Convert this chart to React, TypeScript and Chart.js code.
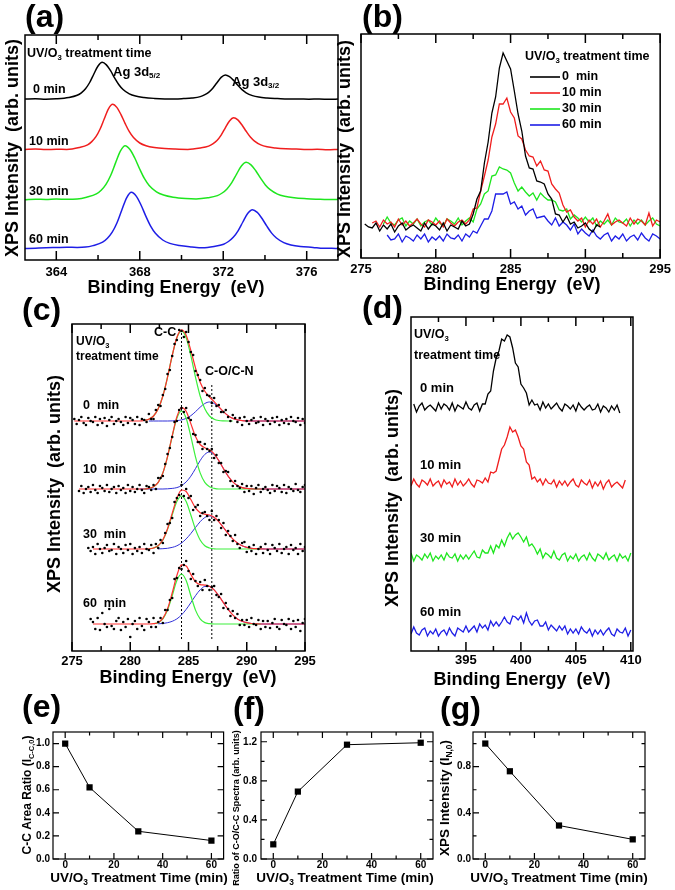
import React, { useEffect, useRef } from 'react';
import { Chart, registerables } from 'chart.js';

Chart.register(...registerables);

const FONT = '"Liberation Sans", Arial, Helvetica, sans-serif';
const BLACK = '#000000';
const RED = '#f01e1e';
const GREEN = '#1ee61e';
const BLUE = '#1e1ee6';
const FIT_RED = '#ff3030';
const FIT_GREEN = '#3cf03c';
const FIT_BLUE = '#3030d8';

// ---------------- (a) Ag 3d ----------------
const A_XTICKS = [364, 368, 372, 376];
const A_XMINOR = [366, 370, 374];
const A_X_0 = [362.5,363.0,363.5,364.0,364.6,365.0,365.2,365.4,365.6,365.8,366.0,366.2,366.4,366.6,366.8,367.0,367.2,367.5,367.8,368.2,368.7,369.2,369.7,370.1,370.5,370.9,371.1,371.3,371.5,371.7,371.9,372.1,372.3,372.5,372.7,372.9,373.1,373.4,373.7,374.1,374.6,375.1,375.6,376.1,376.6,377.1,377.5];
const A_Y_0 = [161,161.3,160.8,161.2,162.5,164.7,167.2,171.3,177.5,186,194,197.7,195.1,189.3,181.9,175.3,170.5,166.1,163.9,162.5,161.6,161.1,161,161.4,162,163.4,165.1,167.7,171.8,177.3,182.6,185,183.3,179.5,174.7,170.4,167.2,164.4,162.9,162,161.4,160.9,161.1,160.8,161,160.7,160.9];
const A_X_10 = [362.5,363.0,363.5,364.0,364.5,365.1,365.5,365.7,365.9,366.1,366.3,366.5,366.7,366.9,367.1,367.3,367.5,367.7,368.0,368.3,368.7,369.2,369.7,370.3,370.9,371.3,371.5,371.7,371.9,372.1,372.3,372.5,372.7,372.9,373.1,373.3,373.5,373.8,374.1,374.5,375.0,375.5,376.0,376.5,377.0,377.5];
const A_Y_10 = [110.5,110.9,110.4,110.8,110.6,112.5,115.2,118.4,123.3,131,141.3,151.2,155.7,152.6,145.4,136.4,128.3,122.4,117,114.3,112.5,111.4,110.9,110.6,112,113.9,116.1,119.5,124.9,132.2,139.1,142.3,140.1,135,128.7,123,118.9,115.1,113.2,112,111.2,110.9,110.4,110.7,110.3,110.6];
const A_X_30 = [362.5,363.0,363.5,364.0,364.5,365.0,365.45,365.92,366.15,366.38,366.61,366.84,367.07,367.3,367.53,367.76,367.99,368.22,368.45,368.8,369.14,369.6,370.2,370.7,371.26,371.72,371.95,372.18,372.41,372.64,372.87,373.1,373.33,373.56,373.79,374.02,374.25,374.6,374.94,375.4,376.0,376.5,377.0,377.5];
const A_Y_30 = [60.3,60.8,60.5,61,60.7,61,62.8,66.1,69.8,75.7,84.8,97.1,108.9,114.3,110.5,102,91.3,81.6,74.6,68.2,65,62.8,61.5,61.1,62.2,64.4,67,71.1,77.4,85.9,94,97.7,95.1,89.2,81.8,75.1,70.3,65.9,63.7,62.2,61.3,60.8,60.4,60.5];
const A_X_60 = [362.5,363.0,363.5,364.0,364.5,365.0,365.4,365.76,366.22,366.45,366.68,366.91,367.14,367.37,367.6,367.83,368.06,368.29,368.52,368.75,369.1,369.44,369.9,370.5,371.0,371.56,372.02,372.25,372.48,372.71,372.94,373.17,373.4,373.63,373.86,374.09,374.32,374.55,374.9,375.24,375.7,376.3,376.8,377.2,377.5];
const A_Y_60 = [11.4,11.8,12.2,12.5,12.8,12.6,12.9,14.4,17.8,21.7,27.8,37.2,50,62.2,67.8,63.9,55,43.9,33.9,26.7,20,16.6,14.4,13,12.2,13.5,15.8,18.5,22.7,29.2,38,46.5,50.3,47.6,41.5,33.8,26.9,22,17.4,15.1,13.5,12.6,11.7,11.8,11.5];

// ---------------- (b) C 1s raw ----------------
const B_XTICKS = [275, 280, 285, 290, 295];
const B_XMINOR = [277.5, 282.5, 287.5, 292.5];
const B_X = [275,275.25,275.5,275.75,276,276.25,276.5,276.75,277,277.25,277.5,277.75,278,278.25,278.5,278.75,279,279.25,279.5,279.75,280,280.25,280.5,280.75,281,281.25,281.5,281.75,282,282.25,282.5,282.75,283,283.25,283.5,283.75,284,284.25,284.5,284.75,285,285.25,285.5,285.75,286,286.25,286.5,286.75,287,287.25,287.5,287.75,288,288.25,288.5,288.75,289,289.25,289.5,289.75,290,290.25,290.5,290.75,291,291.25,291.5,291.75,292,292.25,292.5,292.75,293,293.25,293.5,293.75,294,294.25,294.5,294.75,295];
const B_0MIN_START = 1;
const B_0MIN = [34,31,30,35,27,33,29,34,26,32,35,28,31,33,30,27,35,29,34,32,28,35,27,33,31,29,37,32,34,44,59,67,95,116,145,161,190,205,197,189,167,144,127,102,90,89,77,76,74,64,59,44,43,36,42,34,36,30,32,35,29,26,33,31];
const B_10MIN_START = 3;
const B_10MIN = [35,37,31,38,34,36,31,39,33,37,32,35,39,34,31,38,36,33,37,31,39,35,32,36,38,34,38,49,50,67,82,98,121,134,154,154,160,146,140,122,119,108,102,101,92,97,88,87,74,69,65,53,46,48,41,37,40,31,38,34,39,31,37,44,33,36,38,35,32,40,34,39,37,33,45,32,38,36];
const B_30MIN_START = 6;
const B_30MIN = [34,41,35,33,38,40,32,37,34,39,32,36,38,33,40,35,32,39,37,34,40,33,37,40,36,49,54,64,67,82,83,91,89,88,85,75,67,71,66,62,65,58,65,61,58,58,56,48,47,49,39,43,40,36,41,36,40,32,37,34,38,33,40,36,35,39,32,38,34,38,33,37,40,34,32];
const B_60MIN_START = 7;
const B_60MIN = [23,18,19,24,16,22,20,17,23,19,24,16,21,18,22,17,24,20,19,23,17,24,21,27,25,32,39,39,47,64,64,64,66,54,56,49,52,43,47,49,40,41,42,37,33,40,32,36,33,28,34,24,29,25,22,28,22,19,23,25,17,22,19,24,17,21,23,18,25,20,17,24,22,19];

// ---------------- (c) C 1s fitted ----------------
const C_FIT_X = [275.2,275.6,276.0,276.4,276.8,277.2,277.6,278.0,278.4,278.8,279.2,279.6,280.0,280.4,280.8,281.2,281.6,282.0,282.4,282.8,283.2,283.6,284.0,284.4,284.8,285.2,285.6,286.0,286.4,286.8,287.2,287.6,288.0,288.4,288.8,289.2,289.6,290.0,290.4,290.8,291.2,291.6,292.0,292.4,292.8,293.2,293.6,294.0,294.4,294.8,295.2];
const C_DOT_X = [275.2,275.4,275.6,275.8,276,276.2,276.4,276.6,276.8,277,277.2,277.4,277.6,277.8,278,278.2,278.4,278.6,278.8,279,279.2,279.4,279.6,279.8,280,280.2,280.4,280.6,280.8,281,281.2,281.4,281.6,281.8,282,282.2,282.4,282.6,282.8,283,283.2,283.4,283.6,283.8,284,284.2,284.4,284.6,284.8,285,285.2,285.4,285.6,285.8,286,286.2,286.4,286.6,286.8,287,287.2,287.4,287.6,287.8,288,288.2,288.4,288.6,288.8,289,289.2,289.4,289.6,289.8,290,290.2,290.4,290.6,290.8,291,291.2,291.4,291.6,291.8,292,292.2,292.4,292.6,292.8,293,293.2,293.4,293.6,293.8,294,294.2,294.4,294.6,294.8,295];

const C_DOTS_0_START = 0;
const C_DOTS_0 = [232,227,231,234,228,226,233,230,229,234,226,232,228,233,225,231,234,227,230,232,229,226,234,228,233,231,227,234,226,232,231,229,237,232,232,241,246,245,256,262,277,281,295,307,311,321,320,314,319,309,299,296,280,276,271,260,263,256,255,248,253,245,246,239,239,241,234,230,236,233,229,233,226,234,230,227,231,233,228,229,234,226,232,230,227,233,229,234,226,231,228,232,227,234,230,229,233,226,232,228];
const C_RED_0_START = 0;
const C_RED_0 = [230,230,230,230,230,230,230,230,230,230,230,230,230,230,230,230.5,231.8,235,242.2,255,273.8,295.4,313.5,321.1,315.7,300.6,283.1,268.8,259.7,254,249.3,244.3,239.4,235.3,232.6,231.1,230.4,230.1,230,230,230,230,230,230,230,230,230,230,230,230,230];
const C_GREEN_0_START = 15;
const C_GREEN_0 = [230.5,231.8,235,242.2,255,273.8,295.3,313.1,320,313.1,295.3,273.8,255,242.2,235,231.8,230.5,230.1,230,230];
const C_BLUE_0_START = 16;
const C_BLUE_0 = [230,230,230,230,230,230.1,230.4,231.1,232.6,235.3,239.3,243.8,247.5,249,247.5,243.8,239.3,235.3,232.6,231.1,230.4,230.1,230,230,230,230,230,230,230,230,230,230,230,230,230];

const C_DOTS_10_START = 2;
const C_DOTS_10 = [160,165,158,162,164,159,166,161,158,165,163,160,166,159,162,164,158,165,161,163,158,166,160,164,159,162,166,161,158,165,164,161,166,162,173,173,175,187,197,203,214,229,230,241,243,239,243,233,231,217,216,209,209,202,207,202,200,202,193,196,188,188,179,180,179,170,165,170,165,163,167,159,165,160,165,157,163,166,159,162,164,161,158,166,160,165,163,159,166,158,164,162,160,167,161,159,164,166];
const C_RED_10_START = 1;
const C_RED_10 = [162,162,162,162,162,162,162,162,162,162,162,162,162,162,162,162.6,164.2,168.6,178.1,194.3,215.2,234.1,243.4,239.8,227.4,214.5,206.5,203.2,201.2,197.2,190.4,182.4,174.8,169.1,165.4,163.4,162.6,162.2,162,162,162,162,162,162,162,162,162,162,162,162];
const C_GREEN_10_START = 15;
const C_GREEN_10 = [162,162.6,164.2,168.6,178.1,194.1,214.6,232.7,240,232.7,214.6,194.1,178.1,168.6,164.2,162.6,162,162,162,162,162,162,162,162,162,162];
const C_BLUE_10_START = 14;
const C_BLUE_10 = [162,162,162,162,162,162,162.2,162.6,163.4,165.4,169.1,174.8,182.4,190.4,196.6,199,196.6,190.4,182.4,174.8,169.1,165.4,163.4,162.6,162.2,162,162,162,162,162,162,162,162,162,162,162,162];

const C_DOTS_30_START = 6;
const C_DOTS_30 = [103,100,104,97,107,102,98,103,106,100,101,107,97,104,102,98,106,101,107,97,103,100,104,98,107,102,101,106,98,107,103,111,108,118,127,128,133,149,153,156,166,155,162,153,155,141,144,146,135,138,139,135,131,140,131,135,131,123,128,116,120,115,110,116,107,103,108,109,99,104,100,106,97,102,104,98,107,101,97,106,103,100,107,98,102,104,97,106,101,103,97,107,100,104];
const C_RED_30_START = 4;
const C_RED_30 = [102,102,102,102,102,102,102,102,102,102,102,102,102.2,103,105.4,111.3,122.3,137.6,152.6,161,159.5,151.5,143.1,138.3,136.8,136,133.7,129.3,123.5,117.5,112.1,108,105.2,103.6,102.7,102.3,102.1,102,102,102,102,102,102,102,102,102,102];
const C_GREEN_30_START = 16;
const C_GREEN_30 = [102.2,103,105.3,111,121.6,136,149.4,155,149.4,136,121.6,111,105.3,103,102.2,102,102,102,102,102,102,102,102,102,102];
const C_BLUE_30_START = 18;
const C_BLUE_30 = [102.1,102.3,102.7,103.6,105.2,108,112.1,117.5,123.5,129.3,133.5,135,133.5,129.3,123.5,117.5,112.1,108,105.2,103.6,102.7,102.3,102.1,102,102,102,102,102,102,102,102,102,102];

const C_DOTS_60_START = 7;
const C_DOTS_60 = [32,29,22,33,21,38,27,24,42,25,22,30,33,21,29,24,32,14,27,30,22,33,25,21,32,29,24,33,24,29,33,28,41,41,51,53,72,73,83,82,86,90,80,72,77,70,65,69,61,71,65,61,64,65,56,54,57,43,48,42,35,40,33,37,26,31,26,31,24,33,27,26,31,22,30,24,30,23,28,32,24,22,31,27,26,32,22,30,24,31,20,28,32];
const C_RED_60_START = 4;
const C_RED_60 = [27,27,27,27,27,27,27,27,27,27,27,27,27,27.3,28.6,32.7,42.2,58,75.5,86.1,85,76.6,69.2,66.4,65.9,64.8,61.2,55.3,48.3,41.6,36.1,32.1,29.7,28.3,27.5,27.2,27,27,27,27,27,27,27,27,27,27,27];
const C_GREEN_60_START = 17;
const C_GREEN_60 = [27.3,28.4,32.2,40.9,55.3,70.4,77,70.4,55.3,40.9,32.2,28.4,27.3,27,27,27,27,27,27,27,27,27,27,27];
const C_BLUE_60_START = 18;
const C_BLUE_60 = [27.2,27.5,28.3,29.7,32.1,36.1,41.6,48.3,55.3,61.2,64.5,64.5,61.2,55.3,48.3,41.6,36.1,32.1,29.7,28.3,27.5,27.2,27,27,27,27,27,27,27,27,27,27,27];

// reference (peak position) lines in (c): x position, top value, bottom value
const C_REF_X = [284.4, 287.0];
const C_REF_TOP = [321, 268];
const C_REF_BOTTOM = [12, 12];

// ---------------- (d) N 1s ----------------
const D_XTICKS = [395, 400, 405, 410];
const D_XMINOR = [392.5, 397.5, 402.5, 407.5];
const D_X = [390,390.25,390.5,390.75,391,391.25,391.5,391.75,392,392.25,392.5,392.75,393,393.25,393.5,393.75,394,394.25,394.5,394.75,395,395.25,395.5,395.75,396,396.25,396.5,396.75,397,397.25,397.5,397.75,398,398.25,398.5,398.75,399,399.25,399.5,399.75,400,400.25,400.5,400.75,401,401.25,401.5,401.75,402,402.25,402.5,402.75,403,403.25,403.5,403.75,404,404.25,404.5,404.75,405,405.25,405.5,405.75,406,406.25,406.5,406.75,407,407.25,407.5,407.75,408,408.25,408.5,408.75,409,409.25,409.5,409.75,410];
const D_0MIN_START = 1;
const D_0MIN = [247,239,245,248,241,244,246,243,240,248,242,247,245,241,248,240,246,244,242,249,243,241,246,248,240,247,247,257,260,280,293,300,312,310,316,314,303,288,284,267,263,258,246,251,246,247,241,249,243,247,242,245,248,243,240,247,245,242,246,240,248,244,241,244,246,241,242,247,239,245,243,239,245,241,246,238];
const D_10MIN_START = 0;
const D_10MIN = [165,172,167,164,171,169,166,172,165,168,170,164,171,167,169,164,172,166,170,165,168,172,167,164,171,170,168,173,169,179,178,180,191,202,206,214,224,219,221,214,205,202,189,186,172,174,169,172,166,172,168,167,171,164,170,166,170,165,169,172,166,164,171,168,166,171,163,169,165,170,162,168,171,164,167,169,166,163,171];
const D_30MIN_START = 0;
const D_30MIN = [98,90,96,94,91,97,93,98,90,95,92,96,91,98,94,93,97,90,96,92,96,92,96,100,94,93,101,98,98,105,98,106,103,111,105,113,118,112,116,118,114,109,114,105,107,103,97,102,93,98,96,93,100,93,91,96,98,90,95,92,97,90,94,96,91,98,93,90,97,95,92,98,91,94,96,90,97,93,95,90,98];
const D_60MIN_START = 0;
const D_60MIN = [17,24,18,16,21,23,15,20,17,22,15,19,21,16,23,18,15,23,21,19,25,19,22,25,19,27,23,26,21,30,25,29,25,29,34,29,27,35,34,31,35,28,38,30,26,30,31,25,25,29,21,26,23,20,25,21,25,17,22,18,22,17,24,20,18,22,15,21,17,21,16,20,23,17,15,22,19,18,23,15,21];

// ---------------- (e)(f)(g) vs treatment time ----------------
const TIMES = [0, 10, 30, 60];
const E_CC_RATIO = [1.0, 0.62, 0.24, 0.16];
const F_CO_CC_RATIO = [0.15, 0.69, 1.17, 1.19];
const G_N_INTENSITY = [1.0, 0.76, 0.29, 0.17];
const T_XTICKS = [0, 20, 40, 60];
const T_XMINOR = [10, 30, 50];
const E_YTICKS = [0, 0.2, 0.4, 0.6, 0.8, 1.0];
const F_YTICKS = [0, 0.4, 0.8, 1.2];
const F_YMINOR = [0.2, 0.6, 1.0];
const G_YTICKS = [0, 0.4, 0.8];
const G_YMINOR = [0.2, 0.6, 1.0];

const TIME_LABELS = ['0 min', '10 min', '30 min', '60 min'];
const TIME_LABELS_WIDE = ['0  min', '10  min', '30  min', '60  min'];

// ---------------- helpers ----------------
const pairs = (xs: number[], ys: number[], start = 0) => ys.map((y, k) => ({ x: xs[start + k], y }));

const lineDs = (data: any[], color: string, width: number, smooth: boolean, order = 0) => ({
  data,
  borderColor: color,
  backgroundColor: color,
  borderWidth: width,
  pointRadius: 0,
  pointHoverRadius: 0,
  fill: false,
  tension: 0,
  cubicInterpolationMode: smooth ? 'monotone' : 'default',
  order,
});

type Part = { t: string; sub?: boolean };
type TextItem = { parts: Part[]; x: number; y: number; size: number; align?: string; rotate?: boolean };

const T = (t: string, x: number, y: number, size: number, align = 'left', rotate = false): TextItem => ({ parts: [{ t }], x, y, size, align, rotate });
const R = (parts: Part[], x: number, y: number, size: number, align = 'left', rotate = false): TextItem => ({ parts, x, y, size, align, rotate });
const UVO3 = (rest: string): Part[] => [{ t: 'UV/O' }, { t: '3', sub: true }, { t: rest }];

function drawRich(ctx: CanvasRenderingContext2D, it: TextItem, ox: number, oy: number) {
  const fontOf = (s: number) => `bold ${s}px ${FONT}`;
  const subScale = 0.62;
  const widths = it.parts.map((p) => {
    ctx.font = fontOf(p.sub ? it.size * subScale : it.size);
    return ctx.measureText(p.t).width;
  });
  const total = widths.reduce((a, b) => a + b, 0);
  ctx.save();
  ctx.translate(it.x - ox, it.y - oy);
  if (it.rotate) ctx.rotate(-Math.PI / 2);
  let x0 = it.align === 'center' ? -total / 2 : it.align === 'right' ? -total : 0;
  ctx.textAlign = 'left';
  ctx.textBaseline = 'middle';
  ctx.fillStyle = BLACK;
  it.parts.forEach((p, i) => {
    ctx.font = fontOf(p.sub ? it.size * subScale : it.size);
    ctx.fillText(p.t, x0, p.sub ? it.size * 0.32 : 0);
    x0 += widths[i];
  });
  ctx.restore();
}

function decorPlugin(spec: any) {
  return {
    id: 'decor',
    afterDraw(chart: any) {
      const ctx = chart.ctx as CanvasRenderingContext2D;
      const { left, top, right, bottom } = chart.chartArea;
      const xs = chart.scales.x;
      const ys = chart.scales.y;
      ctx.save();
      ctx.strokeStyle = BLACK;
      ctx.lineWidth = spec.frameWidth;
      const xt = (vals: number[], len: number) => {
        for (const v of vals) {
          const p = xs.getPixelForValue(v);
          ctx.beginPath();
          ctx.moveTo(p, bottom);
          ctx.lineTo(p, bottom - len);
          ctx.moveTo(p, top);
          ctx.lineTo(p, top + len);
          ctx.stroke();
        }
      };
      const yt = (vals: number[], len: number) => {
        for (const v of vals) {
          const p = ys.getPixelForValue(v);
          ctx.beginPath();
          ctx.moveTo(left, p);
          ctx.lineTo(left + len, p);
          ctx.moveTo(right, p);
          ctx.lineTo(right - len, p);
          ctx.stroke();
        }
      };
      xt(spec.xTicks, spec.major);
      xt(spec.xMinor || [], spec.minor);
      if (spec.yTicks) {
        yt(spec.yTicks, spec.major);
        yt(spec.yMinor || [], spec.minor);
      }
      ctx.strokeRect(left, top, right - left, bottom - top);
      if (spec.legend) {
        const lg = spec.legend;
        lg.labels.forEach((lab: string, i: number) => {
          ctx.strokeStyle = lg.colors[i];
          ctx.lineWidth = 1.6;
          ctx.beginPath();
          ctx.moveTo(lg.x1 - spec.box.left, lg.ys[i] - spec.box.top);
          ctx.lineTo(lg.x2 - spec.box.left, lg.ys[i] - spec.box.top);
          ctx.stroke();
          drawRich(ctx, T(lab, lg.labelX, lg.ys[i], lg.size), spec.box.left, spec.box.top);
        });
      }
      for (const t of spec.texts) drawRich(ctx, t, spec.box.left, spec.box.top);
      ctx.restore();
    },
  };
}

function buildChart(canvas: HTMLCanvasElement, spec: any) {
  const { box, area } = spec;
  const padTop = area.T - box.top;
  const padRight = box.left + box.width - area.R;
  const yW = area.L - box.left;
  const xH = box.top + box.height - area.B;
  const tickFont = { family: FONT, weight: 'bold', size: spec.tickSize };
  return new Chart(canvas, {
    type: 'line',
    data: { datasets: spec.datasets },
    options: {
      responsive: false,
      maintainAspectRatio: false,
      animation: false,
      events: [],
      layout: { padding: { top: padTop, right: padRight, left: 0, bottom: 0 } },
      plugins: { legend: { display: false }, tooltip: { enabled: false }, title: { display: false } },
      scales: {
        x: {
          type: 'linear',
          min: spec.xMin,
          max: spec.xMax,
          afterFit: (s: any) => { s.height = xH; },
          afterBuildTicks: (s: any) => {
            s.min = spec.xMin;
            s.max = spec.xMax;
            s.ticks = spec.xTicks.map((v: number) => ({ value: v }));
          },
          grid: { display: false, drawTicks: false },
          border: { display: false },
          ticks: {
            autoSkip: false, maxRotation: 0, minRotation: 0, padding: spec.xPad, color: BLACK, font: tickFont,
            callback: (v: any) => String(v),
          },
        },
        y: {
          type: 'linear',
          min: spec.yMin,
          max: spec.yMax,
          afterFit: (s: any) => { s.width = yW; },
          afterBuildTicks: (s: any) => {
            s.min = spec.yMin;
            s.max = spec.yMax;
            s.ticks = (spec.yTicks || []).map((v: number) => ({ value: v }));
          },
          grid: { display: false, drawTicks: false },
          border: { display: false },
          ticks: {
            display: !!spec.yTicks, autoSkip: false, padding: spec.yPad || 3, color: BLACK, font: tickFont,
            callback: (v: any) => Number(v).toFixed(1),
          },
        },
      },
    } as any,
    plugins: [decorPlugin(spec)],
  } as any);
}

// ---------------- panel specs ----------------
const SPEC_A = {
  box: { left: 0, top: 0, width: 340, height: 300 },
  area: { L: 25, T: 35, R: 338, B: 260 },
  xMin: 362.5, xMax: 377.5, xTicks: A_XTICKS, xMinor: A_XMINOR, yMin: 0, yMax: 225,
  tickSize: 13, xPad: 5, major: 9, minor: 5, frameWidth: 1.5,
  datasets: [
    lineDs(pairs(A_X_0, A_Y_0), BLACK, 1.5, true, 0),
    lineDs(pairs(A_X_10, A_Y_10), RED, 1.5, true, 1),
    lineDs(pairs(A_X_30, A_Y_30), GREEN, 1.5, true, 2),
    lineDs(pairs(A_X_60, A_Y_60), BLUE, 1.5, true, 3),
  ],
  texts: [
    T('(a)', 25, 18, 32),
    T('XPS Intensity  (arb. units)', 13, 148, 18, 'center', true),
    T('Binding Energy  (eV)', 176, 288, 18, 'center'),
    R(UVO3(' treatment time'), 27, 54, 12.5),
    R([{ t: 'Ag 3d' }, { t: '5/2', sub: true }], 113, 72, 13),
    R([{ t: 'Ag 3d' }, { t: '3/2', sub: true }], 232, 82, 13),
    T(TIME_LABELS[0], 33, 90, 12.5),
    T(TIME_LABELS[1], 29, 142, 12.5),
    T(TIME_LABELS[2], 29, 192, 12.5),
    T(TIME_LABELS[3], 29, 240, 12.5),
  ],
};

const SPEC_B = {
  box: { left: 335, top: 0, width: 340, height: 300 },
  area: { L: 361, T: 34, R: 663, B: 258 },
  xMin: 275, xMax: 295, xTicks: B_XTICKS, xMinor: B_XMINOR, yMin: 0, yMax: 224,
  tickSize: 13, xPad: 4, major: 9, minor: 5, frameWidth: 1.5,
  datasets: [
    lineDs(pairs(B_X, B_0MIN, B_0MIN_START), BLACK, 1.3, false, 0),
    lineDs(pairs(B_X, B_10MIN, B_10MIN_START), RED, 1.3, false, 1),
    lineDs(pairs(B_X, B_30MIN, B_30MIN_START), GREEN, 1.3, false, 2),
    lineDs(pairs(B_X, B_60MIN, B_60MIN_START), BLUE, 1.3, false, 3),
  ],
  legend: { x1: 530, x2: 560, labelX: 562, ys: [77, 93, 109, 125], labels: ['0  min', '10 min', '30 min', '60 min'], colors: [BLACK, RED, GREEN, BLUE], size: 12.5 },
  texts: [
    T('(b)', 362, 18, 32),
    T('XPS Intensity  (arb. units)', 345, 149, 18, 'center', true),
    T('Binding Energy  (eV)', 512, 285, 18, 'center'),
    R(UVO3(' treatment time'), 525, 57, 12.5),
  ],
};

const dotDs = (data: any[]) => ({ data, showLine: false, pointRadius: 1.3, pointBackgroundColor: BLACK, pointBorderWidth: 0, borderColor: BLACK, order: 0 });

const SPEC_C = {
  box: { left: 0, top: 290, width: 335, height: 410 },
  area: { L: 72, T: 324, R: 305, B: 651 },
  xMin: 275, xMax: 295, xTicks: B_XTICKS, xMinor: B_XMINOR, yMin: 0, yMax: 327,
  tickSize: 13, xPad: 3, major: 9, minor: 5, frameWidth: 1.5,
  datasets: [
    dotDs(pairs(C_DOT_X, C_DOTS_0, C_DOTS_0_START)),
    dotDs(pairs(C_DOT_X, C_DOTS_10, C_DOTS_10_START)),
    dotDs(pairs(C_DOT_X, C_DOTS_30, C_DOTS_30_START)),
    dotDs(pairs(C_DOT_X, C_DOTS_60, C_DOTS_60_START)),
    lineDs(pairs(C_FIT_X, C_RED_0, C_RED_0_START), FIT_RED, 1.2, true, 1),
    lineDs(pairs(C_FIT_X, C_RED_10, C_RED_10_START), FIT_RED, 1.2, true, 1),
    lineDs(pairs(C_FIT_X, C_RED_30, C_RED_30_START), FIT_RED, 1.2, true, 1),
    lineDs(pairs(C_FIT_X, C_RED_60, C_RED_60_START), FIT_RED, 1.2, true, 1),
    lineDs(pairs(C_FIT_X, C_GREEN_0, C_GREEN_0_START), FIT_GREEN, 1.2, true, 2),
    lineDs(pairs(C_FIT_X, C_GREEN_10, C_GREEN_10_START), FIT_GREEN, 1.2, true, 2),
    lineDs(pairs(C_FIT_X, C_GREEN_30, C_GREEN_30_START), FIT_GREEN, 1.2, true, 2),
    lineDs(pairs(C_FIT_X, C_GREEN_60, C_GREEN_60_START), FIT_GREEN, 1.2, true, 2),
    lineDs(pairs(C_FIT_X, C_BLUE_0, C_BLUE_0_START), FIT_BLUE, 1.0, true, 3),
    lineDs(pairs(C_FIT_X, C_BLUE_10, C_BLUE_10_START), FIT_BLUE, 1.0, true, 3),
    lineDs(pairs(C_FIT_X, C_BLUE_30, C_BLUE_30_START), FIT_BLUE, 1.0, true, 3),
    lineDs(pairs(C_FIT_X, C_BLUE_60, C_BLUE_60_START), FIT_BLUE, 1.0, true, 3),
    ...C_REF_X.map((x, i) => ({
      ...lineDs([{ x, y: C_REF_BOTTOM[i] }, { x, y: C_REF_TOP[i] }], BLACK, 1, false, 4),
      borderDash: [2, 2],
    })),
  ],
  texts: [
    T('(c)', 22, 311, 32),
    T('XPS Intensity  (arb. units)', 55, 484, 18, 'center', true),
    T('Binding Energy  (eV)', 188, 678, 18, 'center'),
    R(UVO3(''), 76, 342, 12),
    T('treatment time', 76, 357, 12),
    T('C-C', 154, 333, 12.5),
    T('C-O/C-N', 205, 372, 12.5),
    T(TIME_LABELS_WIDE[0], 83, 406, 12.5),
    T(TIME_LABELS_WIDE[1], 83, 470, 12.5),
    T(TIME_LABELS_WIDE[2], 83, 535, 12.5),
    T(TIME_LABELS_WIDE[3], 83, 604, 12.5),
  ],
};

const SPEC_D = {
  box: { left: 335, top: 290, width: 340, height: 410 },
  area: { L: 411, T: 317, R: 633, B: 651 },
  xMin: 390, xMax: 410.2, xTicks: D_XTICKS, xMinor: D_XMINOR, yMin: 0, yMax: 334,
  tickSize: 13, xPad: 2, major: 9, minor: 5, frameWidth: 1.5,
  datasets: [
    lineDs(pairs(D_X, D_0MIN, D_0MIN_START), BLACK, 1.3, false, 0),
    lineDs(pairs(D_X, D_10MIN, D_10MIN_START), RED, 1.3, false, 1),
    lineDs(pairs(D_X, D_30MIN, D_30MIN_START), GREEN, 1.3, false, 2),
    lineDs(pairs(D_X, D_60MIN, D_60MIN_START), BLUE, 1.3, false, 3),
  ],
  texts: [
    T('(d)', 362, 309, 32),
    T('XPS Intensity  (arb. units)', 393, 498, 18, 'center', true),
    T('Binding Energy  (eV)', 522, 680, 18, 'center'),
    R(UVO3(''), 414, 335, 12.5),
    T('treatment time', 414, 356, 12.5),
    T(TIME_LABELS[0], 420, 388, 13),
    T(TIME_LABELS[1], 420, 465, 13),
    T(TIME_LABELS[2], 420, 538, 13),
    T(TIME_LABELS[3], 420, 612, 13),
  ],
};

const markerDs = (vals: number[]) => ({
  data: pairs(TIMES, vals),
  borderColor: BLACK,
  backgroundColor: BLACK,
  borderWidth: 1,
  pointStyle: 'rect',
  pointRadius: 4.4,
  pointBackgroundColor: BLACK,
  pointBorderColor: BLACK,
  pointBorderWidth: 0,
  tension: 0,
});

const SPEC_E = {
  box: { left: 0, top: 685, width: 228, height: 205 },
  area: { L: 53, T: 732, R: 224, B: 859 },
  xMin: -5, xMax: 65, xTicks: T_XTICKS, xMinor: T_XMINOR, yMin: 0, yMax: 1.1, yTicks: E_YTICKS, yMinor: [],
  tickSize: 10, xPad: 0, yPad: 3, major: 6, minor: 3.5, frameWidth: 1.2,
  datasets: [markerDs(E_CC_RATIO)],
  texts: [
    T('(e)', 22, 708, 32),
    R([{ t: 'C-C Area Ratio (I' }, { t: 'C-C,0', sub: true }, { t: ')' }], 28, 795, 12, 'center', true),
    R(UVO3(' Treatment Time (min)'), 139, 878, 13.5, 'center'),
  ],
};

const SPEC_F = {
  box: { left: 220, top: 685, width: 225, height: 205 },
  area: { L: 261, T: 732, R: 433, B: 859 },
  xMin: -5, xMax: 65, xTicks: T_XTICKS, xMinor: T_XMINOR, yMin: 0, yMax: 1.3, yTicks: F_YTICKS, yMinor: F_YMINOR,
  tickSize: 10, xPad: 0, yPad: 4, major: 6, minor: 3.5, frameWidth: 1.2,
  datasets: [markerDs(F_CO_CC_RATIO)],
  texts: [
    T('(f)', 233, 710, 32),
    T('Ratio of C-O/C-C Spectra (arb. units)', 237, 808, 9, 'center', true),
    R(UVO3(' Treatment Time (min)'), 345, 878, 13.5, 'center'),
  ],
};

const SPEC_G = {
  box: { left: 438, top: 685, width: 237, height: 205 },
  area: { L: 473, T: 732, R: 645, B: 859 },
  xMin: -5, xMax: 65, xTicks: T_XTICKS, xMinor: T_XMINOR, yMin: 0, yMax: 1.1, yTicks: G_YTICKS, yMinor: G_YMINOR,
  tickSize: 10, xPad: 0, yPad: 2, major: 6, minor: 3.5, frameWidth: 1.2,
  datasets: [markerDs(G_N_INTENSITY)],
  texts: [
    T('(g)', 440, 710, 32),
    R([{ t: 'XPS Intensity (I' }, { t: 'N,0', sub: true }, { t: ')' }], 445, 798, 13.5, 'center', true),
    R(UVO3(' Treatment Time (min)'), 559, 878, 13.5, 'center'),
  ],
};

function ChartPanel({ spec }: { spec: any }) {
  const ref = useRef<HTMLCanvasElement>(null);
  useEffect(() => {
    if (!ref.current) return;
    const chart = buildChart(ref.current, spec);
    return () => chart.destroy();
  }, [spec]);
  const b = spec.box;
  return (
    <canvas
      ref={ref}
      width={b.width}
      height={b.height}
      style={{ position: 'absolute', left: b.left, top: b.top, width: b.width, height: b.height, display: 'block' }}
    />
  );
}

const SPECS = [SPEC_A, SPEC_B, SPEC_C, SPEC_D, SPEC_E, SPEC_F, SPEC_G];

export default function App() {
  return (
    <div style={{ position: 'absolute', left: 0, top: 0, width: 675, height: 890, background: '#ffffff', overflow: 'hidden' }}>
      {SPECS.map((s, i) => (
        <ChartPanel key={i} spec={s} />
      ))}
    </div>
  );
}
